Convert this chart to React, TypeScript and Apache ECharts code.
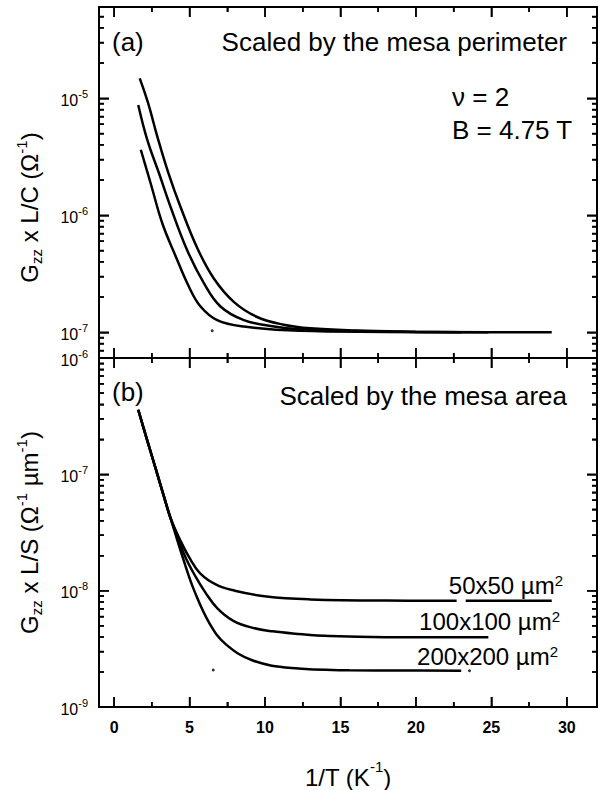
import { useEffect, useRef } from "react";
import * as echarts from "echarts";

const FONT = "'Liberation Sans', Arial, Helvetica, sans-serif";

// layout of the two stacked panels (pixels)
const G_LEFT = 99;
const G_RIGHT = 11;
const A_TOP = 7;
const A_H = 351;
const B_TOP = 358;
const B_H = 352;
const G_W = 608 - G_LEFT - G_RIGHT;

// shared x axis
const X_MIN = -1;
const X_MAX = 32;
const X_MAJOR = [0, 5, 10, 15, 20, 25, 30];
const X_MINOR = [2.5, 7.5, 12.5, 17.5, 22.5, 27.5];

// panel (a): G_zz x L/C (Ω^-1), log10 range
const A_MIN = -7.22;
const A_MAX = -4.22;
const A_LABELS = [-7, -6, -5];
// panel (b): G_zz x L/S (Ω^-1 µm^-1)
const B_MIN = -9;
const B_MAX = -6;
const B_LABELS = [-9, -8, -7, -6];

// panel (a) curves
const a200x = [1.7, 2.25, 2.87, 3.6, 4.41, 5.51, 6.61, 7.93, 9.48, 11.24, 13, 16, 20, 23];
const a200y = [1.48e-5, 9.12e-6, 4.68e-6, 2.29e-6, 1.17e-6, 5.25e-7, 2.88e-7, 1.82e-7, 1.35e-7, 1.16e-7, 1.08e-7, 1.035e-7, 1.01e-7, 1.0e-7];
const a100x = [1.6, 2.2, 3.0, 3.75, 4.85, 5.95, 7.05, 8.6, 10.6, 12.3, 16, 20, 24.8];
const a100y = [8.77e-6, 4.41e-6, 2.24e-6, 1.17e-6, 5.0e-7, 2.63e-7, 1.66e-7, 1.27e-7, 1.12e-7, 1.06e-7, 1.023e-7, 1.007e-7, 1.0e-7];
const a50x = [1.77, 2.43, 3.2, 4.08, 4.96, 5.73, 6.83, 8.6, 12.3, 18, 23, 29];
const a50y = [3.63e-6, 1.86e-6, 8.5e-7, 4.47e-7, 2.45e-7, 1.66e-7, 1.27e-7, 1.12e-7, 1.03e-7, 1.007e-7, 1.0e-7, 1.0e-7];
const aStray = [[6.5, 1.03e-7]];

// panel (b) curves
const b50x = [1.6, 2.2, 2.8, 3.3, 3.75, 4.4, 5.0, 5.7, 6.8, 8.0, 10.1, 13, 18, 22.7, 23.0, 23.3, 29];
const b50y = [3.59e-7, 1.95e-7, 1.07e-7, 6.46e-8, 4.17e-8, 2.69e-8, 1.91e-8, 1.41e-8, 1.12e-8, 1.0e-8, 8.9e-9, 8.41e-9, 8.22e-9, 8.2e-9, null, 8.2e-9, 8.2e-9];
const b100x = [1.6, 2.2, 2.8, 3.3, 3.75, 4.3, 4.75, 5.4, 6.0, 6.83, 7.9, 9.2, 10.5, 12, 14.3, 18, 24.8];
const b100y = [3.59e-7, 1.95e-7, 1.07e-7, 6.46e-8, 4.17e-8, 2.69e-8, 1.91e-8, 1.32e-8, 9.86e-9, 7.08e-9, 5.5e-9, 4.79e-9, 4.47e-9, 4.27e-9, 4.07e-9, 3.98e-9, 3.98e-9];
const b200x = [1.6, 2.2, 2.8, 3.3, 3.75, 4.56, 5.33, 6.36, 7.39, 9.19, 11.77, 15.6, 19, 23];
const b200y = [3.59e-7, 1.95e-7, 1.07e-7, 6.46e-8, 4.17e-8, 1.91e-8, 9.86e-9, 5.13e-9, 3.47e-9, 2.51e-9, 2.16e-9, 2.07e-9, 2.06e-9, 2.05e-9];
const bStray = [[6.57, 2.08e-9], [23.55, 2.05e-9]];

const lg = (v: number | null) => (v == null ? "-" : Math.log10(v));

function logMinor(min: number, max: number) {
  const out: number[] = [];
  for (let n = Math.floor(min) - 1; n <= Math.ceil(max); n++) {
    for (let k = 2; k <= 9; k++) {
      const v = n + Math.log10(k);
      if (v > min + 0.004 && v < max - 0.004) out.push(v);
    }
  }
  return out;
}
function logMajor(min: number, max: number) {
  const out: number[] = [];
  for (let n = Math.ceil(min); n <= Math.floor(max); n++) {
    if (n > min + 0.004 && n < max - 0.004) out.push(n);
  }
  return out;
}

const TICK_LINE = { color: "#000", width: 1.5 };
const FRAME_LINE = { color: "#000", width: 2 };

const labelRich = {
  b: { fontSize: 16, fontFamily: FONT, color: "#000", lineHeight: 20, verticalAlign: "bottom" },
  s: { fontSize: 11, fontFamily: FONT, color: "#000", lineHeight: 11, verticalAlign: "top" },
};
const nameRich = {
  n: { fontSize: 24, fontFamily: FONT, color: "#000", lineHeight: 30 },
  sub: { fontSize: 15, fontFamily: FONT, color: "#000", lineHeight: 15, verticalAlign: "bottom" },
  s: { fontSize: 15, fontFamily: FONT, color: "#000", lineHeight: 15, verticalAlign: "top" },
};

function xAxes(grid: number, withLabels: boolean) {
  const out: any[] = [];
  for (const pos of ["bottom", "top"]) {
    for (const kind of ["major", "minor"]) {
      const ax: any = {
        type: "value",
        gridIndex: grid,
        min: X_MIN,
        max: X_MAX,
        position: pos,
        splitLine: { show: false },
        axisLine: { show: kind === "major", onZero: false, lineStyle: FRAME_LINE },
        axisTick: {
          show: true,
          inside: true,
          length: kind === "major" ? 10 : 5,
          lineStyle: TICK_LINE,
          customValues: kind === "major" ? X_MAJOR : X_MINOR,
        },
        axisLabel: { show: false },
      };
      if (withLabels && pos === "bottom" && kind === "major") {
        ax.axisLabel = {
          show: true,
          customValues: X_MAJOR,
          margin: 12,
          color: "#000",
          fontSize: 16,
          fontWeight: "bold",
          fontFamily: FONT,
        };
        ax.name = "{n|1/T (K}{s|-1}{n|)}";
        ax.nameLocation = "middle";
        ax.nameGap = 52;
        ax.nameTextStyle = {
          rich: {
            n: { fontSize: 24, fontFamily: FONT, color: "#000", lineHeight: 30, verticalAlign: "bottom" },
            s: { fontSize: 15, fontFamily: FONT, color: "#000", lineHeight: 15, verticalAlign: "top" },
          },
        };
      }
      out.push(ax);
    }
  }
  return out;
}

function yAxes(grid: number, min: number, max: number, labels: number[], name: string, shift: number) {
  const out: any[] = [];
  const major = logMajor(min, max);
  const minor = logMinor(min, max);
  for (const pos of ["left", "right"]) {
    for (const kind of ["major", "minor"]) {
      const ax: any = {
        type: "value",
        gridIndex: grid,
        min,
        max,
        position: pos,
        splitLine: { show: false },
        axisLine: { show: kind === "major", onZero: false, lineStyle: FRAME_LINE },
        axisTick: {
          show: true,
          inside: true,
          length: kind === "major" ? 10 : 5,
          lineStyle: TICK_LINE,
          customValues: kind === "major" ? major : minor,
        },
        axisLabel: { show: false },
      };
      if (pos === "left" && kind === "major") {
        ax.axisLabel = {
          show: true,
          customValues: labels,
          margin: 11,
          formatter: (v: number) => `{b|10}{s|${Math.round(v)}}`,
          rich: labelRich,
        };
        ax.name = name;
        ax.nameLocation = "middle";
        ax.nameGap = 55;
        ax.nameRotate = 90;
        ax.nameTextStyle = { rich: nameRich, padding: [0, shift, 0, 0] };
      }
      out.push(ax);
    }
  }
  return out;
}

// backup: inward ticks as short segments in data units, drawn by a line series
function tickSeries(idx: number, yMin: number, yMax: number, hPx: number) {
  const pyu = hPx / (yMax - yMin);
  const pxu = G_W / (X_MAX - X_MIN);
  const data: any[] = [];
  const seg = (p: number[], q: number[]) => {
    data.push(p, q, [p[0], "-"]);
  };
  const xt = (v: number, len: number) => {
    seg([v, yMin], [v, yMin + len / pyu]);
    seg([v, yMax], [v, yMax - len / pyu]);
  };
  const yt = (v: number, len: number) => {
    seg([X_MIN, v], [X_MIN + len / pxu, v]);
    seg([X_MAX, v], [X_MAX - len / pxu, v]);
  };
  X_MAJOR.forEach((v) => xt(v, 10));
  X_MINOR.forEach((v) => xt(v, 5));
  logMajor(yMin, yMax).forEach((v) => yt(v, 10));
  logMinor(yMin, yMax).forEach((v) => yt(v, 5));
  return {
    type: "line",
    xAxisIndex: idx,
    yAxisIndex: idx,
    data,
    symbol: "none",
    connectNulls: false,
    clip: false,
    silent: true,
    z: 10,
    lineStyle: { color: "#000", width: 1.5, cap: "butt" },
  };
}

function curve(xs: number[], ys: (number | null)[], idx: number) {
  return {
    type: "line",
    xAxisIndex: idx,
    yAxisIndex: idx,
    data: xs.map((x, i) => [x, lg(ys[i])]),
    symbol: "none",
    smooth: 0.4,
    connectNulls: false,
    silent: true,
    lineStyle: { color: "#000", width: 2.5 },
  };
}
function strays(pts: number[][], idx: number) {
  return {
    type: "scatter",
    xAxisIndex: idx,
    yAxisIndex: idx,
    data: pts.map((p) => [p[0], Math.log10(p[1])]),
    symbolSize: 3,
    silent: true,
    itemStyle: { color: "#000" },
  };
}

const txt = (x: number, y: number, text: string, align: string, size: number, rich?: any) => ({
  type: "text",
  x,
  y,
  silent: true,
  style: {
    text,
    align,
    verticalAlign: "middle",
    fontSize: size,
    fontFamily: FONT,
    fill: "#000",
    rich,
  },
});
const areaRich = {
  n: { fontSize: 24, fontFamily: FONT, color: "#000", lineHeight: 24 },
  s: { fontSize: 15, fontFamily: FONT, color: "#000", lineHeight: 12, verticalAlign: "top" },
};

export default function App() {
  const ref = useRef<HTMLDivElement>(null);
  useEffect(() => {
    if (!ref.current) return;
    const chart = echarts.init(ref.current, undefined, { renderer: "svg" });
    const option: any = {
      animation: false,
      backgroundColor: "#fff",
      grid: [
        { left: G_LEFT, right: G_RIGHT, top: A_TOP, height: A_H },
        { left: G_LEFT, right: G_RIGHT, top: B_TOP, height: B_H },
      ],
      xAxis: [...xAxes(0, false), ...xAxes(1, true)],
      yAxis: [
        ...yAxes(0, A_MIN, A_MAX, A_LABELS, "{n|G}{sub|zz}{n| x L/C (Ω}{s|-1}{n|)}", 50),
        ...yAxes(1, B_MIN, B_MAX, B_LABELS, "{n|G}{sub|zz}{n| x L/S (Ω}{s|-1}{n| µm}{s|-1}{n|)}", 0),
      ],
      series: [
        tickSeries(0, A_MIN, A_MAX, A_H),
        tickSeries(4, B_MIN, B_MAX, B_H),
        curve(a200x, a200y, 0),
        curve(a100x, a100y, 0),
        curve(a50x, a50y, 0),
        strays(aStray, 0),
        curve(b50x, b50y, 4),
        curve(b100x, b100y, 4),
        curve(b200x, b200y, 4),
        strays(bStray, 4),
      ],
      graphic: [
        txt(112, 42, "(a)", "left", 26),
        txt(567, 42, "Scaled by the mesa perimeter", "right", 26),
        txt(452, 97, "ν = 2", "left", 26),
        txt(452, 130, "B = 4.75 T", "left", 26),
        txt(112, 392, "(b)", "left", 26),
        txt(567, 396, "Scaled by the mesa area", "right", 26),
        txt(563, 585, "{n|50x50 µm}{s|2}", "right", 24, areaRich),
        txt(560, 621, "{n|100x100 µm}{s|2}", "right", 24, areaRich),
        txt(558, 656, "{n|200x200 µm}{s|2}", "right", 24, areaRich),
      ],
    };
    chart.setOption(option);
    return () => chart.dispose();
  }, []);
  return (
    <div
      ref={ref}
      style={{ position: "absolute", left: 0, top: 0, width: 608, height: 790, background: "#fff" }}
    />
  );
}
